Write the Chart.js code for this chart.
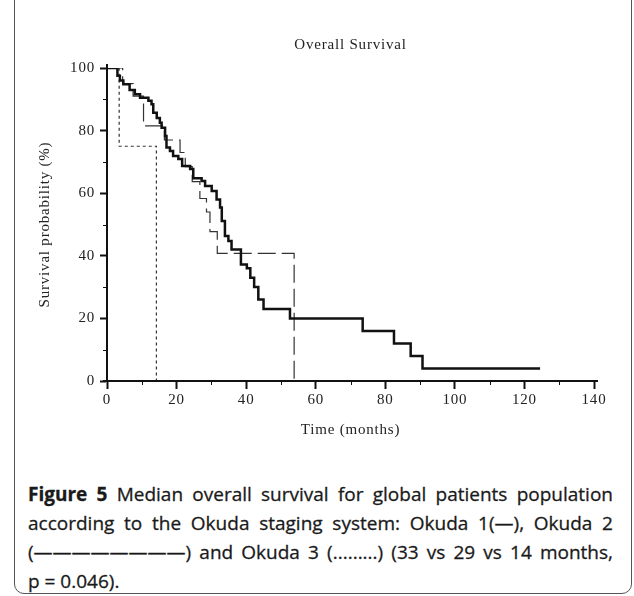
<!DOCTYPE html>
<html>
<head>
<meta charset="utf-8">
<script src="https://cdn.jsdelivr.net/npm/chart.js@4.4.1/dist/chart.umd.min.js"></script>
<style>
  html, body { margin: 0; padding: 0; background: #fff; }
  body { width: 634px; height: 596px; position: relative; overflow: hidden; }
  #frame {
    position: absolute; left: 14px; top: -20px; width: 618px; height: 614px;
    border: 1px solid #555; border-radius: 10px; box-sizing: border-box;
  }
  #wrap { position: absolute; left: 0; top: 0; width: 634px; height: 445px; }
  #caption {
    position: absolute; left: 28px; top: 480px; width: 585px;
    font-family: "Open Sans", sans-serif; font-size: 19px; line-height: 29px;
    color: #1a1a1a; -webkit-text-stroke: 0.3px #1a1a1a;
  }
  #caption div { white-space: nowrap; text-align: justify; text-align-last: justify; }
  #caption div.last { text-align-last: left; }
</style>
</head>
<body>
<div id="frame"></div>
<div id="wrap"><canvas id="survChart"></canvas></div>
<div id="caption">
  <div><b>Figure 5</b> Median overall survival for global patients population</div>
  <div>according to the Okuda staging system: Okuda 1(—), Okuda 2</div>
  <div>(————————) and Okuda 3 (.........) (33 vs 29 vs 14 months,</div>
  <div class="last">p = 0.046).</div>
</div>
<script>
// Kaplan-Meier curves (time in months, survival in %)
const okuda1Time = [0, 3, 3.7, 4.7, 6.5, 8, 9.5, 11.9, 12.8, 13.3, 14.3, 15.2, 15.7, 16.7, 17.1, 18.1, 19, 20.5, 21.6, 23.9, 24.8, 27.2, 28.2, 30.1, 31.5, 32.5, 33, 33.9, 34.9, 35.8, 38.5, 40.2, 41.2, 42.3, 43.5, 45, 52.6, 73.5, 82.5, 87.3, 90.7, 124.5];
const okuda1Surv = [100, 97.5, 96, 94.8, 93, 91.6, 90.5, 89.5, 88.4, 85.7, 84, 82.5, 80.9, 78.3, 74.6, 73.5, 71.9, 70.9, 68.7, 67.7, 64.8, 63.9, 62.3, 60.7, 58, 55.4, 51.1, 46.3, 44.7, 42, 37.2, 36, 33, 30, 26, 23, 20, 16, 12, 8, 4, 4];

const okuda2Time = [0, 4.5, 7.5, 10.5, 16.5, 21, 22.5, 24.5, 26.7, 28.6, 29.6, 31.7, 53.8];
const okuda2Surv = [100, 95, 91, 81.5, 77, 73, 68.5, 63.7, 58.3, 54, 47.7, 40.8, 0];

const okuda3Time = [0, 3.5, 14.2];
const okuda3Surv = [100, 75, 0];

const seriesNames = ['Okuda 1', 'Okuda 2', 'Okuda 3'];
const xTickStep = 10, yTickStep = 10;

function toPoints(times, surv) {
    return times.map((t, i) => ({ x: t, y: surv[i] }));
}

const serif = 'Liberation Serif, Times New Roman, serif';

// ticks mineurs plus courts + petit dépassement des axes, comme l'original
const axisExtras = {
    id: 'axisExtras',
    beforeDraw(chart) {
        chart.ctx.letterSpacing = '0.8px';
    },
    afterDraw(chart) {
        const ctx = chart.ctx;
        const xs = chart.scales.x, ys = chart.scales.y;
        ctx.save();
        ctx.strokeStyle = '#111';
        ctx.lineWidth = 1;
        xs.ticks.forEach(t => {
            if (t.value % 20 === 0) return;
            const px = Math.round(xs.getPixelForValue(t.value)) + 0.5;
            ctx.beginPath();
            ctx.moveTo(px, xs.top);
            ctx.lineTo(px, xs.top + 4);
            ctx.stroke();
        });
        ys.ticks.forEach(t => {
            if (t.value % 20 === 0) return;
            const py = Math.round(ys.getPixelForValue(t.value)) + 0.5;
            ctx.beginPath();
            ctx.moveTo(ys.right, py);
            ctx.lineTo(ys.right - 4, py);
            ctx.stroke();
        });
        // axes lines run a few px past the end ticks
        ctx.lineWidth = 2;
        const x0 = xs.getPixelForValue(0), xEnd = xs.getPixelForValue(140);
        const y0 = ys.getPixelForValue(0), yTop = ys.getPixelForValue(100);
        ctx.beginPath();
        ctx.moveTo(x0 - 4, y0);
        ctx.lineTo(xEnd + 4, y0);
        ctx.moveTo(x0, yTop - 4);
        ctx.lineTo(x0, y0);
        ctx.stroke();
        ctx.restore();
    }
};

document.addEventListener('DOMContentLoaded', () => {
    const ctx = document.getElementById('survChart').getContext('2d');
    new Chart(ctx, {
        type: 'line',
        data: {
            datasets: [
                {
                    label: seriesNames[0],
                    data: toPoints(okuda1Time, okuda1Surv),
                    borderColor: '#111',
                    borderWidth: 2.5,
                    stepped: 'before',
                    pointRadius: 0
                },
                {
                    label: seriesNames[1],
                    data: toPoints(okuda2Time, okuda2Surv),
                    borderColor: '#333',
                    borderWidth: 1.2,
                    borderDash: [18, 6],
                    stepped: 'before',
                    pointRadius: 0
                },
                {
                    label: seriesNames[2],
                    data: toPoints(okuda3Time, okuda3Surv),
                    borderColor: '#333',
                    borderWidth: 1.2,
                    borderDash: [3, 3],
                    stepped: 'before',
                    pointRadius: 0
                }
            ]
        },
        options: {
            responsive: true,
            maintainAspectRatio: false,
            animation: false,
            layout: { padding: { top: 36, right: 40, left: 0, bottom: 0 } },
            plugins: {
                legend: { display: false },
                tooltip: { enabled: false },
                title: {
                    display: true,
                    text: 'Overall Survival',
                    fullSize: false,
                    color: '#222',
                    font: { family: serif, size: 15, weight: 'normal' },
                    padding: { top: 0, bottom: 14 }
                }
            },
            scales: {
                x: {
                    type: 'linear',
                    min: 0,
                    max: 140,
                    afterFit(scale) { scale.height = 64; },
                    border: { display: true, color: '#111', width: 2 },
                    grid: {
                        drawOnChartArea: false,
                        tickLength: 8,
                        tickWidth: 2,
                        tickColor: c => (c.tick && c.tick.value % 20 === 0) ? '#111' : 'rgba(0,0,0,0)'
                    },
                    ticks: {
                        stepSize: xTickStep,
                        padding: 2,
                        color: '#222',
                        font: { family: serif, size: 15 },
                        maxRotation: 0,
                        autoSkip: false,
                        callback: v => (v % 20 === 0 ? v : '')
                    },
                    title: {
                        display: true,
                        text: 'Time (months)',
                        color: '#222',
                        font: { family: serif, size: 15 },
                        padding: { top: 0, bottom: 6 }
                    }
                },
                y: {
                    min: 0,
                    max: 100,
                    afterFit(scale) { scale.width = 107; },
                    border: { display: true, color: '#111', width: 2 },
                    grid: {
                        drawOnChartArea: false,
                        tickLength: 7,
                        tickWidth: 2,
                        tickColor: c => (c.tick && c.tick.value % 20 === 0) ? '#111' : 'rgba(0,0,0,0)'
                    },
                    ticks: {
                        stepSize: yTickStep,
                        padding: 5,
                        color: '#222',
                        font: { family: serif, size: 15 },
                        autoSkip: false,
                        callback: v => (v % 20 === 0 ? v : '')
                    },
                    title: {
                        display: true,
                        text: 'Survival probability (%)',
                        color: '#222',
                        font: { family: serif, size: 15 },
                        padding: { top: 36, bottom: 4 }
                    }
                }
            }
        },
        plugins: [axisExtras]
    });
});
</script>
</body>
</html>
